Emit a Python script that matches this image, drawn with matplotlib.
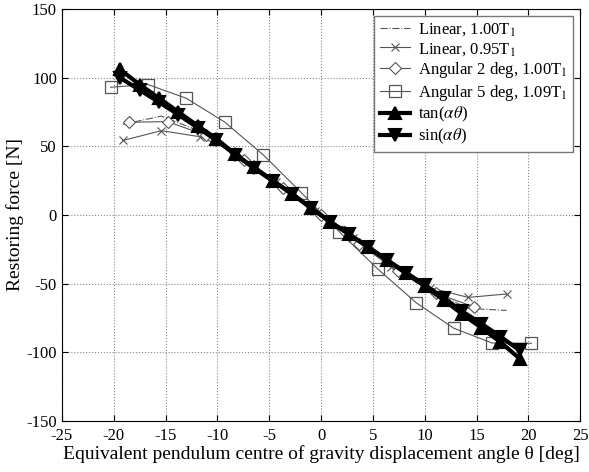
import matplotlib
matplotlib.use("Agg")
import matplotlib.pyplot as plt

plt.rcParams["font.family"] = ["Liberation Serif", "DejaVu Serif"]
plt.rcParams["mathtext.fontset"] = "stix"
plt.rcParams["axes.unicode_minus"] = False

# thick reference curves
theta_ref = [-19.4, -17.5, -15.6, -13.75, -11.9, -10.1, -8.3, -6.5, -4.65, -2.8, -0.95,
             0.9, 2.7, 4.55, 6.4, 8.2, 10.05, 11.85, 13.6, 15.45, 17.3, 19.15]
tan_force = [106, 95, 85, 75, 65, 55.5, 44.5, 34.6, 25, 15.5, 5,
             -5, -14, -23.5, -33, -42.5, -52, -62, -72, -82, -92.5, -104.5]
sin_force = [100, 91, 82, 73, 63.5, 54.5, 44, 34.3, 24.8, 15.4, 5,
             -5, -14, -23.3, -32.8, -42, -51, -60.5, -70, -79, -88.5, -98.5]

# measured series
theta_lin = [-19.1, -15.4, -11.7, -8.0, -4.3, -0.6, 3.1, 6.8, 10.5, 14.2, 17.9]
lin100 = [66, 72, 61, 45, 24, 3, -17, -38, -55, -68, -69.5]
lin095 = [54.3, 61.4, 57, 45, 24, 3, -17, -38, -53, -60, -57.5]

theta_ang2 = [-18.5, -14.8, -11.1, -7.4, -3.7, 0, 3.7, 7.4, 11.1, 14.8]
ang2 = [67.5, 68, 58, 40, 20, 0, -21, -41, -57, -67]

theta_ang5 = [-20.3, -16.7, -13.0, -9.3, -5.6, -1.9, 1.76, 5.5, 9.2, 12.8, 16.5, 20.3]
ang5 = [93, 95, 85, 67.7, 44, 16.3, -12.2, -39.5, -64, -82.4, -93.2, -93.4]

grey = "#555555"

fig = plt.figure(figsize=(5.89, 4.72), dpi=100)
ax = fig.add_axes([0.105, 0.108, 0.88, 0.873])

ax.plot(theta_lin, lin100, "-.", color=grey, lw=0.8, label="Linear, 1.00T$_1$")
ax.plot(theta_lin, lin095, "-", color=grey, lw=0.8, marker="x", ms=6, mew=0.8,
        label="Linear, 0.95T$_1$")
ax.plot(theta_ang2, ang2, "-", color=grey, lw=0.8, marker="D", ms=6, mfc="white",
        mec=grey, mew=0.8, label="Angular 2 deg, 1.00T$_1$")
ax.plot(theta_ang5, ang5, "-", color=grey, lw=0.8, marker="s", ms=8, mfc="none",
        mec=grey, mew=0.9, label="Angular 5 deg, 1.09T$_1$")
ax.plot(theta_ref, tan_force, "-", color="black", lw=3, marker="^", ms=8,
        mfc="black", mec="black", mew=1.5, label=r"tan($\alpha\theta$)")
ax.plot(theta_ref, sin_force, "-", color="black", lw=3, marker="v", ms=8,
        mfc="black", mec="black", mew=1.5, label=r"sin($\alpha\theta$)")

ax.set_xlim(-25, 25)
ax.set_ylim(-150, 150)
ax.set_xticks(range(-25, 26, 5))
ax.set_yticks(range(-150, 151, 50))
ax.grid(True, linestyle=":", color="#888888", linewidth=0.8)
ax.tick_params(direction="in", top=True, right=True, labelsize=12, length=4)
ax.tick_params(axis="x", pad=5)

ax.set_xlabel("Equivalent pendulum centre of gravity displacement angle θ [deg]",
              fontsize=14, labelpad=1)
ax.set_ylabel("Restoring force [N]", fontsize=14, labelpad=2)

leg = ax.legend(loc="upper right", fontsize=12, fancybox=False, framealpha=1,
                edgecolor="#777777", handlelength=1.8, borderaxespad=0.4,
                labelspacing=0.15, handletextpad=0.5, borderpad=0.35)
leg.get_frame().set_linewidth(1.0)

fig.savefig("out.png", dpi=100)
